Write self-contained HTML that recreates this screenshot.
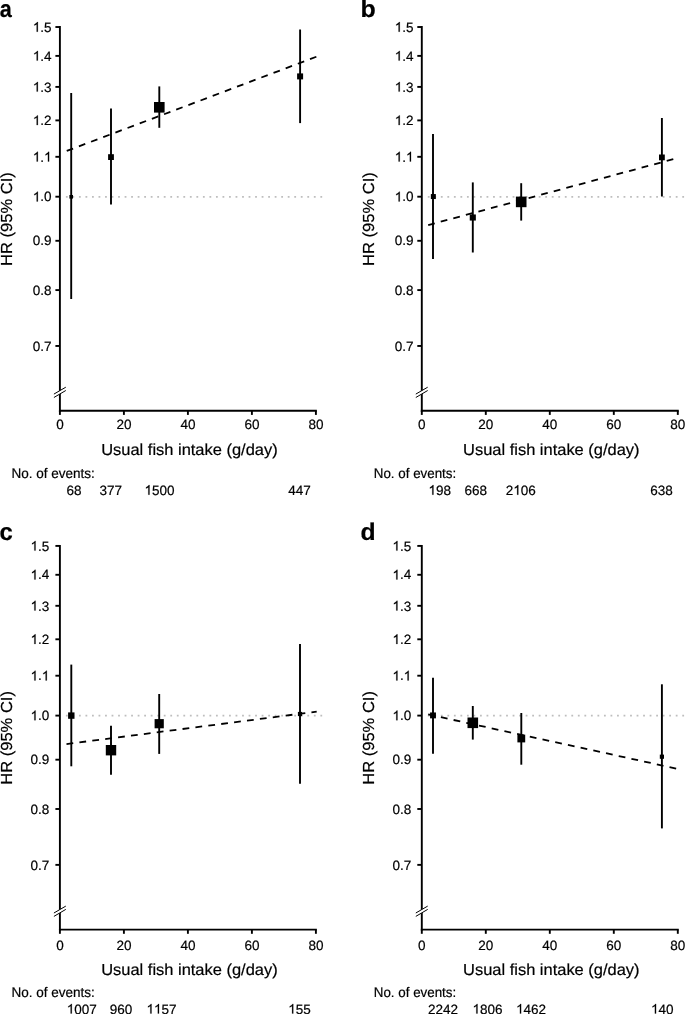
<!DOCTYPE html>
<html><head><meta charset="utf-8"><title>Figure</title>
<style>
html,body{margin:0;padding:0;background:#fff;}
body{width:685px;height:1014px;overflow:hidden;}
svg{display:block;will-change:transform;}
svg text{font-family:"Liberation Sans",sans-serif;fill:#000;stroke:#000;stroke-width:0.2px;text-rendering:geometricPrecision;}
</style></head><body>
<svg width="685" height="1014" viewBox="0 0 685 1014">
<rect width="685" height="1014" fill="#fff"/>
<line x1="65.90" y1="196.80" x2="322.20" y2="196.80" stroke="#bebebe" stroke-width="1.8" stroke-dasharray="1.8 4.725"/>
<path d="M59.90 26.06 V411.65" stroke="#000" stroke-width="1.9" fill="none"/>
<path d="M58.95 410.70 H316.85" stroke="#000" stroke-width="1.9" fill="none"/>
<path d="M55.40 27.01 H59.90" stroke="#000" stroke-width="1.9"/>
<path d="M763 0H583V1147Q518 1085 412.5 1023Q307 961 223 930V1104Q374 1175 487 1276Q600 1377 647 1472H763Z" transform="translate(32.83,31.71) scale(0.00659,-0.00659)" fill="#000" stroke="#000" stroke-width="30.3"/>
<text x="40.34 44.09" y="31.71" font-size="13.5">.5</text>
<path d="M55.40 55.89 H59.90" stroke="#000" stroke-width="1.9"/>
<path d="M763 0H583V1147Q518 1085 412.5 1023Q307 961 223 930V1104Q374 1175 487 1276Q600 1377 647 1472H763Z" transform="translate(32.83,60.59) scale(0.00659,-0.00659)" fill="#000" stroke="#000" stroke-width="30.3"/>
<text x="40.34 44.09" y="60.59" font-size="13.5">.4</text>
<path d="M55.40 86.90 H59.90" stroke="#000" stroke-width="1.9"/>
<path d="M763 0H583V1147Q518 1085 412.5 1023Q307 961 223 930V1104Q374 1175 487 1276Q600 1377 647 1472H763Z" transform="translate(32.83,91.60) scale(0.00659,-0.00659)" fill="#000" stroke="#000" stroke-width="30.3"/>
<text x="40.34 44.09" y="91.60" font-size="13.5">.3</text>
<path d="M55.40 120.40 H59.90" stroke="#000" stroke-width="1.9"/>
<path d="M763 0H583V1147Q518 1085 412.5 1023Q307 961 223 930V1104Q374 1175 487 1276Q600 1377 647 1472H763Z" transform="translate(32.83,125.10) scale(0.00659,-0.00659)" fill="#000" stroke="#000" stroke-width="30.3"/>
<text x="40.34 44.09" y="125.10" font-size="13.5">.2</text>
<path d="M55.40 156.81 H59.90" stroke="#000" stroke-width="1.9"/>
<path d="M763 0H583V1147Q518 1085 412.5 1023Q307 961 223 930V1104Q374 1175 487 1276Q600 1377 647 1472H763Z" transform="translate(32.83,161.51) scale(0.00659,-0.00659)" fill="#000" stroke="#000" stroke-width="30.3"/>
<path d="M763 0H583V1147Q518 1085 412.5 1023Q307 961 223 930V1104Q374 1175 487 1276Q600 1377 647 1472H763Z" transform="translate(44.09,161.51) scale(0.00659,-0.00659)" fill="#000" stroke="#000" stroke-width="30.3"/>
<text x="40.34" y="161.51" font-size="13.5">.</text>
<path d="M55.40 196.70 H59.90" stroke="#000" stroke-width="1.9"/>
<path d="M763 0H583V1147Q518 1085 412.5 1023Q307 961 223 930V1104Q374 1175 487 1276Q600 1377 647 1472H763Z" transform="translate(32.83,201.40) scale(0.00659,-0.00659)" fill="#000" stroke="#000" stroke-width="30.3"/>
<text x="40.34 44.09" y="201.40" font-size="13.5">.0</text>
<path d="M55.40 240.79 H59.90" stroke="#000" stroke-width="1.9"/>
<text x="32.83 40.34 44.09" y="245.49" font-size="13.5">0.9</text>
<path d="M55.40 290.09 H59.90" stroke="#000" stroke-width="1.9"/>
<text x="32.83 40.34 44.09" y="294.79" font-size="13.5">0.8</text>
<path d="M55.40 345.97 H59.90" stroke="#000" stroke-width="1.9"/>
<text x="32.83 40.34 44.09" y="350.67" font-size="13.5">0.7</text>
<path d="M59.90 410.70 V414.90" stroke="#000" stroke-width="1.9"/>
<text x="56.15" y="429.30" font-size="13.5">0</text>
<path d="M123.90 410.70 V414.90" stroke="#000" stroke-width="1.9"/>
<text x="116.39 123.90" y="429.30" font-size="13.5">20</text>
<path d="M187.90 410.70 V414.90" stroke="#000" stroke-width="1.9"/>
<text x="180.39 187.90" y="429.30" font-size="13.5">40</text>
<path d="M251.90 410.70 V414.90" stroke="#000" stroke-width="1.9"/>
<text x="244.39 251.90" y="429.30" font-size="13.5">60</text>
<path d="M315.90 410.70 V414.90" stroke="#000" stroke-width="1.9"/>
<text x="308.39 315.90" y="429.30" font-size="13.5">80</text>
<path d="M53.90 394.10 L65.80 387.20 L65.80 390.50 L53.90 397.50 Z" fill="#fff"/>
<path d="M53.90 394.10 L65.80 387.20 M53.90 397.50 L65.80 390.50" stroke="#000" stroke-width="1" fill="none"/>
<text transform="translate(189.40,455.10) scale(1.028,1)" font-size="16.0" text-anchor="middle" font-weight="normal">Usual fish intake (g/day)</text>
<text transform="translate(11.70,219.00) rotate(-90) scale(1.034,1)" font-size="16.0" text-anchor="middle" font-weight="normal">HR (95% CI)</text>
<text transform="translate(11.40,478.40) scale(0.97,1)" font-size="13.95" text-anchor="start" font-weight="normal">No. of events:</text>
<text x="66.39 73.90" y="494.70" font-size="13.5">68</text>
<text x="99.54 107.05 114.55" y="494.70" font-size="13.5">377</text>
<path d="M763 0H583V1147Q518 1085 412.5 1023Q307 961 223 930V1104Q374 1175 487 1276Q600 1377 647 1472H763Z" transform="translate(144.49,494.70) scale(0.00659,-0.00659)" fill="#000" stroke="#000" stroke-width="30.3"/>
<text x="151.99 159.50 167.01" y="494.70" font-size="13.5">500</text>
<text x="288.24 295.75 303.25" y="494.70" font-size="13.5">447</text>
<path d="M65.8 151.3 L316.8 56.6" stroke="#000" stroke-width="1.8" stroke-dasharray="6.8 6.2" stroke-dashoffset="-1.0" fill="none"/>
<path d="M71.2 93.0 V299.0" stroke="#000" stroke-width="1.9"/>
<rect x="69.40" y="195.00" width="3.6" height="3.6" fill="#000"/>
<path d="M111.0 108.5 V204.4" stroke="#000" stroke-width="1.9"/>
<rect x="108.10" y="154.20" width="5.8" height="5.8" fill="#000"/>
<path d="M159.3 86.4 V127.8" stroke="#000" stroke-width="1.9"/>
<rect x="154.00" y="102.00" width="10.6" height="10.6" fill="#000"/>
<path d="M300.1 29.5 V123.1" stroke="#000" stroke-width="1.9"/>
<rect x="297.10" y="73.40" width="6.0" height="6.0" fill="#000"/>
<text transform="translate(-0.30,17.10) scale(0.903,1)" font-size="24.0" text-anchor="start" font-weight="bold">a</text>
<line x1="427.80" y1="196.80" x2="684.10" y2="196.80" stroke="#bebebe" stroke-width="1.8" stroke-dasharray="1.8 4.725"/>
<path d="M421.80 26.06 V411.65" stroke="#000" stroke-width="1.9" fill="none"/>
<path d="M420.85 410.70 H678.75" stroke="#000" stroke-width="1.9" fill="none"/>
<path d="M417.30 27.01 H421.80" stroke="#000" stroke-width="1.9"/>
<path d="M763 0H583V1147Q518 1085 412.5 1023Q307 961 223 930V1104Q374 1175 487 1276Q600 1377 647 1472H763Z" transform="translate(394.74,31.71) scale(0.00659,-0.00659)" fill="#000" stroke="#000" stroke-width="30.3"/>
<text x="402.24 405.99" y="31.71" font-size="13.5">.5</text>
<path d="M417.30 55.89 H421.80" stroke="#000" stroke-width="1.9"/>
<path d="M763 0H583V1147Q518 1085 412.5 1023Q307 961 223 930V1104Q374 1175 487 1276Q600 1377 647 1472H763Z" transform="translate(394.74,60.59) scale(0.00659,-0.00659)" fill="#000" stroke="#000" stroke-width="30.3"/>
<text x="402.24 405.99" y="60.59" font-size="13.5">.4</text>
<path d="M417.30 86.90 H421.80" stroke="#000" stroke-width="1.9"/>
<path d="M763 0H583V1147Q518 1085 412.5 1023Q307 961 223 930V1104Q374 1175 487 1276Q600 1377 647 1472H763Z" transform="translate(394.74,91.60) scale(0.00659,-0.00659)" fill="#000" stroke="#000" stroke-width="30.3"/>
<text x="402.24 405.99" y="91.60" font-size="13.5">.3</text>
<path d="M417.30 120.40 H421.80" stroke="#000" stroke-width="1.9"/>
<path d="M763 0H583V1147Q518 1085 412.5 1023Q307 961 223 930V1104Q374 1175 487 1276Q600 1377 647 1472H763Z" transform="translate(394.74,125.10) scale(0.00659,-0.00659)" fill="#000" stroke="#000" stroke-width="30.3"/>
<text x="402.24 405.99" y="125.10" font-size="13.5">.2</text>
<path d="M417.30 156.81 H421.80" stroke="#000" stroke-width="1.9"/>
<path d="M763 0H583V1147Q518 1085 412.5 1023Q307 961 223 930V1104Q374 1175 487 1276Q600 1377 647 1472H763Z" transform="translate(394.74,161.51) scale(0.00659,-0.00659)" fill="#000" stroke="#000" stroke-width="30.3"/>
<path d="M763 0H583V1147Q518 1085 412.5 1023Q307 961 223 930V1104Q374 1175 487 1276Q600 1377 647 1472H763Z" transform="translate(405.99,161.51) scale(0.00659,-0.00659)" fill="#000" stroke="#000" stroke-width="30.3"/>
<text x="402.24" y="161.51" font-size="13.5">.</text>
<path d="M417.30 196.70 H421.80" stroke="#000" stroke-width="1.9"/>
<path d="M763 0H583V1147Q518 1085 412.5 1023Q307 961 223 930V1104Q374 1175 487 1276Q600 1377 647 1472H763Z" transform="translate(394.74,201.40) scale(0.00659,-0.00659)" fill="#000" stroke="#000" stroke-width="30.3"/>
<text x="402.24 405.99" y="201.40" font-size="13.5">.0</text>
<path d="M417.30 240.79 H421.80" stroke="#000" stroke-width="1.9"/>
<text x="394.74 402.24 405.99" y="245.49" font-size="13.5">0.9</text>
<path d="M417.30 290.09 H421.80" stroke="#000" stroke-width="1.9"/>
<text x="394.74 402.24 405.99" y="294.79" font-size="13.5">0.8</text>
<path d="M417.30 345.97 H421.80" stroke="#000" stroke-width="1.9"/>
<text x="394.74 402.24 405.99" y="350.67" font-size="13.5">0.7</text>
<path d="M421.80 410.70 V414.90" stroke="#000" stroke-width="1.9"/>
<text x="418.05" y="429.30" font-size="13.5">0</text>
<path d="M485.80 410.70 V414.90" stroke="#000" stroke-width="1.9"/>
<text x="478.29 485.80" y="429.30" font-size="13.5">20</text>
<path d="M549.80 410.70 V414.90" stroke="#000" stroke-width="1.9"/>
<text x="542.29 549.80" y="429.30" font-size="13.5">40</text>
<path d="M613.80 410.70 V414.90" stroke="#000" stroke-width="1.9"/>
<text x="606.29 613.80" y="429.30" font-size="13.5">60</text>
<path d="M677.80 410.70 V414.90" stroke="#000" stroke-width="1.9"/>
<text x="670.29 677.80" y="429.30" font-size="13.5">80</text>
<path d="M415.80 394.10 L427.70 387.20 L427.70 390.50 L415.80 397.50 Z" fill="#fff"/>
<path d="M415.80 394.10 L427.70 387.20 M415.80 397.50 L427.70 390.50" stroke="#000" stroke-width="1" fill="none"/>
<text transform="translate(551.30,455.10) scale(1.028,1)" font-size="16.0" text-anchor="middle" font-weight="normal">Usual fish intake (g/day)</text>
<text transform="translate(373.60,219.00) rotate(-90) scale(1.034,1)" font-size="16.0" text-anchor="middle" font-weight="normal">HR (95% CI)</text>
<text transform="translate(373.80,478.40) scale(0.958,1)" font-size="13.95" text-anchor="start" font-weight="normal">No. of events:</text>
<path d="M763 0H583V1147Q518 1085 412.5 1023Q307 961 223 930V1104Q374 1175 487 1276Q600 1377 647 1472H763Z" transform="translate(428.44,494.70) scale(0.00659,-0.00659)" fill="#000" stroke="#000" stroke-width="30.3"/>
<text x="435.95 443.45" y="494.70" font-size="13.5">98</text>
<text x="464.44 471.95 479.45" y="494.70" font-size="13.5">668</text>
<path d="M763 0H583V1147Q518 1085 412.5 1023Q307 961 223 930V1104Q374 1175 487 1276Q600 1377 647 1472H763Z" transform="translate(513.29,494.70) scale(0.00659,-0.00659)" fill="#000" stroke="#000" stroke-width="30.3"/>
<text x="505.79 520.80 528.31" y="494.70" font-size="13.5">206</text>
<text x="650.24 657.75 665.25" y="494.70" font-size="13.5">638</text>
<path d="M427.9 225.1 L674.2 158.9" stroke="#000" stroke-width="1.8" stroke-dasharray="6.8 6.2" stroke-dashoffset="-0.3" fill="none"/>
<path d="M433.0 134.1 V259.0" stroke="#000" stroke-width="1.9"/>
<rect x="430.85" y="194.05" width="5.0" height="5.0" fill="#000"/>
<path d="M472.8 182.4 V252.5" stroke="#000" stroke-width="1.9"/>
<rect x="469.75" y="214.45" width="6.1" height="6.1" fill="#000"/>
<path d="M521.2 183.2 V220.6" stroke="#000" stroke-width="1.9"/>
<rect x="515.90" y="196.60" width="10.6" height="10.6" fill="#000"/>
<path d="M661.9 118.0 V196.5" stroke="#000" stroke-width="1.9"/>
<rect x="659.00" y="154.50" width="5.8" height="5.8" fill="#000"/>
<text transform="translate(360.50,16.80) scale(1.04,1)" font-size="24.0" text-anchor="start" font-weight="bold">b</text>
<line x1="65.90" y1="715.70" x2="322.20" y2="715.70" stroke="#bebebe" stroke-width="1.8" stroke-dasharray="1.8 4.725"/>
<path d="M59.90 544.96 V930.55" stroke="#000" stroke-width="1.9" fill="none"/>
<path d="M58.95 929.60 H316.85" stroke="#000" stroke-width="1.9" fill="none"/>
<path d="M55.40 545.91 H59.90" stroke="#000" stroke-width="1.9"/>
<path d="M763 0H583V1147Q518 1085 412.5 1023Q307 961 223 930V1104Q374 1175 487 1276Q600 1377 647 1472H763Z" transform="translate(30.53,550.61) scale(0.00659,-0.00659)" fill="#000" stroke="#000" stroke-width="30.3"/>
<text x="38.04 41.79" y="550.61" font-size="13.5">.5</text>
<path d="M55.40 574.79 H59.90" stroke="#000" stroke-width="1.9"/>
<path d="M763 0H583V1147Q518 1085 412.5 1023Q307 961 223 930V1104Q374 1175 487 1276Q600 1377 647 1472H763Z" transform="translate(30.53,579.49) scale(0.00659,-0.00659)" fill="#000" stroke="#000" stroke-width="30.3"/>
<text x="38.04 41.79" y="579.49" font-size="13.5">.4</text>
<path d="M55.40 605.80 H59.90" stroke="#000" stroke-width="1.9"/>
<path d="M763 0H583V1147Q518 1085 412.5 1023Q307 961 223 930V1104Q374 1175 487 1276Q600 1377 647 1472H763Z" transform="translate(30.53,610.50) scale(0.00659,-0.00659)" fill="#000" stroke="#000" stroke-width="30.3"/>
<text x="38.04 41.79" y="610.50" font-size="13.5">.3</text>
<path d="M55.40 639.30 H59.90" stroke="#000" stroke-width="1.9"/>
<path d="M763 0H583V1147Q518 1085 412.5 1023Q307 961 223 930V1104Q374 1175 487 1276Q600 1377 647 1472H763Z" transform="translate(30.53,644.00) scale(0.00659,-0.00659)" fill="#000" stroke="#000" stroke-width="30.3"/>
<text x="38.04 41.79" y="644.00" font-size="13.5">.2</text>
<path d="M55.40 675.71 H59.90" stroke="#000" stroke-width="1.9"/>
<path d="M763 0H583V1147Q518 1085 412.5 1023Q307 961 223 930V1104Q374 1175 487 1276Q600 1377 647 1472H763Z" transform="translate(30.53,680.41) scale(0.00659,-0.00659)" fill="#000" stroke="#000" stroke-width="30.3"/>
<path d="M763 0H583V1147Q518 1085 412.5 1023Q307 961 223 930V1104Q374 1175 487 1276Q600 1377 647 1472H763Z" transform="translate(41.79,680.41) scale(0.00659,-0.00659)" fill="#000" stroke="#000" stroke-width="30.3"/>
<text x="38.04" y="680.41" font-size="13.5">.</text>
<path d="M55.40 715.60 H59.90" stroke="#000" stroke-width="1.9"/>
<path d="M763 0H583V1147Q518 1085 412.5 1023Q307 961 223 930V1104Q374 1175 487 1276Q600 1377 647 1472H763Z" transform="translate(30.53,720.30) scale(0.00659,-0.00659)" fill="#000" stroke="#000" stroke-width="30.3"/>
<text x="38.04 41.79" y="720.30" font-size="13.5">.0</text>
<path d="M55.40 759.69 H59.90" stroke="#000" stroke-width="1.9"/>
<text x="30.53 38.04 41.79" y="764.39" font-size="13.5">0.9</text>
<path d="M55.40 808.99 H59.90" stroke="#000" stroke-width="1.9"/>
<text x="30.53 38.04 41.79" y="813.69" font-size="13.5">0.8</text>
<path d="M55.40 864.87 H59.90" stroke="#000" stroke-width="1.9"/>
<text x="30.53 38.04 41.79" y="869.57" font-size="13.5">0.7</text>
<path d="M59.90 929.60 V933.80" stroke="#000" stroke-width="1.9"/>
<text x="56.15" y="949.60" font-size="13.5">0</text>
<path d="M123.90 929.60 V933.80" stroke="#000" stroke-width="1.9"/>
<text x="116.39 123.90" y="949.60" font-size="13.5">20</text>
<path d="M187.90 929.60 V933.80" stroke="#000" stroke-width="1.9"/>
<text x="180.39 187.90" y="949.60" font-size="13.5">40</text>
<path d="M251.90 929.60 V933.80" stroke="#000" stroke-width="1.9"/>
<text x="244.39 251.90" y="949.60" font-size="13.5">60</text>
<path d="M315.90 929.60 V933.80" stroke="#000" stroke-width="1.9"/>
<text x="308.39 315.90" y="949.60" font-size="13.5">80</text>
<path d="M53.90 913.00 L65.80 906.10 L65.80 909.40 L53.90 916.40 Z" fill="#fff"/>
<path d="M53.90 913.00 L65.80 906.10 M53.90 916.40 L65.80 909.40" stroke="#000" stroke-width="1" fill="none"/>
<text transform="translate(189.40,974.70) scale(1.028,1)" font-size="16.0" text-anchor="middle" font-weight="normal">Usual fish intake (g/day)</text>
<text transform="translate(11.70,737.90) rotate(-90) scale(1.034,1)" font-size="16.0" text-anchor="middle" font-weight="normal">HR (95% CI)</text>
<text transform="translate(11.40,996.90) scale(0.97,1)" font-size="13.95" text-anchor="start" font-weight="normal">No. of events:</text>
<path d="M763 0H583V1147Q518 1085 412.5 1023Q307 961 223 930V1104Q374 1175 487 1276Q600 1377 647 1472H763Z" transform="translate(66.79,1013.60) scale(0.00659,-0.00659)" fill="#000" stroke="#000" stroke-width="30.3"/>
<text x="74.29 81.80 89.31" y="1013.60" font-size="13.5">007</text>
<text x="109.84 117.35 124.85" y="1013.60" font-size="13.5">960</text>
<path d="M763 0H583V1147Q518 1085 412.5 1023Q307 961 223 930V1104Q374 1175 487 1276Q600 1377 647 1472H763Z" transform="translate(146.49,1013.60) scale(0.00659,-0.00659)" fill="#000" stroke="#000" stroke-width="30.3"/>
<path d="M763 0H583V1147Q518 1085 412.5 1023Q307 961 223 930V1104Q374 1175 487 1276Q600 1377 647 1472H763Z" transform="translate(153.99,1013.60) scale(0.00659,-0.00659)" fill="#000" stroke="#000" stroke-width="30.3"/>
<text x="161.50 169.01" y="1013.60" font-size="13.5">57</text>
<path d="M763 0H583V1147Q518 1085 412.5 1023Q307 961 223 930V1104Q374 1175 487 1276Q600 1377 647 1472H763Z" transform="translate(288.24,1013.60) scale(0.00659,-0.00659)" fill="#000" stroke="#000" stroke-width="30.3"/>
<text x="295.75 303.25" y="1013.60" font-size="13.5">55</text>
<path d="M66.2 744.1 L316.7 711.6" stroke="#000" stroke-width="1.8" stroke-dasharray="6.8 6.2" stroke-dashoffset="-0.3" fill="none"/>
<path d="M71.3 664.6 V766.3" stroke="#000" stroke-width="1.9"/>
<rect x="68.10" y="712.40" width="6.4" height="6.4" fill="#000"/>
<path d="M111.0 725.7 V774.7" stroke="#000" stroke-width="1.9"/>
<rect x="105.80" y="745.00" width="10.4" height="10.4" fill="#000"/>
<path d="M159.2 694.0 V753.9" stroke="#000" stroke-width="1.9"/>
<rect x="154.60" y="719.10" width="9.2" height="9.2" fill="#000"/>
<path d="M300.0 643.9 V783.7" stroke="#000" stroke-width="1.9"/>
<rect x="297.90" y="711.90" width="4.2" height="4.2" fill="#000"/>
<text transform="translate(-0.50,540.00) scale(0.995,1)" font-size="24.0" text-anchor="start" font-weight="bold">c</text>
<line x1="427.80" y1="715.70" x2="684.10" y2="715.70" stroke="#bebebe" stroke-width="1.8" stroke-dasharray="1.8 4.725"/>
<path d="M421.80 544.96 V930.55" stroke="#000" stroke-width="1.9" fill="none"/>
<path d="M420.85 929.60 H678.75" stroke="#000" stroke-width="1.9" fill="none"/>
<path d="M417.30 545.91 H421.80" stroke="#000" stroke-width="1.9"/>
<path d="M763 0H583V1147Q518 1085 412.5 1023Q307 961 223 930V1104Q374 1175 487 1276Q600 1377 647 1472H763Z" transform="translate(392.44,550.61) scale(0.00659,-0.00659)" fill="#000" stroke="#000" stroke-width="30.3"/>
<text x="399.94 403.69" y="550.61" font-size="13.5">.5</text>
<path d="M417.30 574.79 H421.80" stroke="#000" stroke-width="1.9"/>
<path d="M763 0H583V1147Q518 1085 412.5 1023Q307 961 223 930V1104Q374 1175 487 1276Q600 1377 647 1472H763Z" transform="translate(392.44,579.49) scale(0.00659,-0.00659)" fill="#000" stroke="#000" stroke-width="30.3"/>
<text x="399.94 403.69" y="579.49" font-size="13.5">.4</text>
<path d="M417.30 605.80 H421.80" stroke="#000" stroke-width="1.9"/>
<path d="M763 0H583V1147Q518 1085 412.5 1023Q307 961 223 930V1104Q374 1175 487 1276Q600 1377 647 1472H763Z" transform="translate(392.44,610.50) scale(0.00659,-0.00659)" fill="#000" stroke="#000" stroke-width="30.3"/>
<text x="399.94 403.69" y="610.50" font-size="13.5">.3</text>
<path d="M417.30 639.30 H421.80" stroke="#000" stroke-width="1.9"/>
<path d="M763 0H583V1147Q518 1085 412.5 1023Q307 961 223 930V1104Q374 1175 487 1276Q600 1377 647 1472H763Z" transform="translate(392.44,644.00) scale(0.00659,-0.00659)" fill="#000" stroke="#000" stroke-width="30.3"/>
<text x="399.94 403.69" y="644.00" font-size="13.5">.2</text>
<path d="M417.30 675.71 H421.80" stroke="#000" stroke-width="1.9"/>
<path d="M763 0H583V1147Q518 1085 412.5 1023Q307 961 223 930V1104Q374 1175 487 1276Q600 1377 647 1472H763Z" transform="translate(392.44,680.41) scale(0.00659,-0.00659)" fill="#000" stroke="#000" stroke-width="30.3"/>
<path d="M763 0H583V1147Q518 1085 412.5 1023Q307 961 223 930V1104Q374 1175 487 1276Q600 1377 647 1472H763Z" transform="translate(403.69,680.41) scale(0.00659,-0.00659)" fill="#000" stroke="#000" stroke-width="30.3"/>
<text x="399.94" y="680.41" font-size="13.5">.</text>
<path d="M417.30 715.60 H421.80" stroke="#000" stroke-width="1.9"/>
<path d="M763 0H583V1147Q518 1085 412.5 1023Q307 961 223 930V1104Q374 1175 487 1276Q600 1377 647 1472H763Z" transform="translate(392.44,720.30) scale(0.00659,-0.00659)" fill="#000" stroke="#000" stroke-width="30.3"/>
<text x="399.94 403.69" y="720.30" font-size="13.5">.0</text>
<path d="M417.30 759.69 H421.80" stroke="#000" stroke-width="1.9"/>
<text x="392.44 399.94 403.69" y="764.39" font-size="13.5">0.9</text>
<path d="M417.30 808.99 H421.80" stroke="#000" stroke-width="1.9"/>
<text x="392.44 399.94 403.69" y="813.69" font-size="13.5">0.8</text>
<path d="M417.30 864.87 H421.80" stroke="#000" stroke-width="1.9"/>
<text x="392.44 399.94 403.69" y="869.57" font-size="13.5">0.7</text>
<path d="M421.80 929.60 V933.80" stroke="#000" stroke-width="1.9"/>
<text x="418.05" y="949.60" font-size="13.5">0</text>
<path d="M485.80 929.60 V933.80" stroke="#000" stroke-width="1.9"/>
<text x="478.29 485.80" y="949.60" font-size="13.5">20</text>
<path d="M549.80 929.60 V933.80" stroke="#000" stroke-width="1.9"/>
<text x="542.29 549.80" y="949.60" font-size="13.5">40</text>
<path d="M613.80 929.60 V933.80" stroke="#000" stroke-width="1.9"/>
<text x="606.29 613.80" y="949.60" font-size="13.5">60</text>
<path d="M677.80 929.60 V933.80" stroke="#000" stroke-width="1.9"/>
<text x="670.29 677.80" y="949.60" font-size="13.5">80</text>
<path d="M415.80 913.00 L427.70 906.10 L427.70 909.40 L415.80 916.40 Z" fill="#fff"/>
<path d="M415.80 913.00 L427.70 906.10 M415.80 916.40 L427.70 909.40" stroke="#000" stroke-width="1" fill="none"/>
<text transform="translate(551.30,974.70) scale(1.028,1)" font-size="16.0" text-anchor="middle" font-weight="normal">Usual fish intake (g/day)</text>
<text transform="translate(373.60,737.90) rotate(-90) scale(1.034,1)" font-size="16.0" text-anchor="middle" font-weight="normal">HR (95% CI)</text>
<text transform="translate(373.80,996.90) scale(0.958,1)" font-size="13.95" text-anchor="start" font-weight="normal">No. of events:</text>
<text x="428.09 435.59 443.10 450.61" y="1013.60" font-size="13.5">2242</text>
<path d="M763 0H583V1147Q518 1085 412.5 1023Q307 961 223 930V1104Q374 1175 487 1276Q600 1377 647 1472H763Z" transform="translate(472.49,1013.60) scale(0.00659,-0.00659)" fill="#000" stroke="#000" stroke-width="30.3"/>
<text x="479.99 487.50 495.01" y="1013.60" font-size="13.5">806</text>
<path d="M763 0H583V1147Q518 1085 412.5 1023Q307 961 223 930V1104Q374 1175 487 1276Q600 1377 647 1472H763Z" transform="translate(516.09,1013.60) scale(0.00659,-0.00659)" fill="#000" stroke="#000" stroke-width="30.3"/>
<text x="523.59 531.10 538.61" y="1013.60" font-size="13.5">462</text>
<path d="M763 0H583V1147Q518 1085 412.5 1023Q307 961 223 930V1104Q374 1175 487 1276Q600 1377 647 1472H763Z" transform="translate(651.04,1013.60) scale(0.00659,-0.00659)" fill="#000" stroke="#000" stroke-width="30.3"/>
<text x="658.55 666.05" y="1013.60" font-size="13.5">40</text>
<path d="M427.9 714.4 L677.4 768.8" stroke="#000" stroke-width="1.8" stroke-dasharray="6.8 6.2" stroke-dashoffset="-0.3" fill="none"/>
<path d="M433.0 677.8 V753.7" stroke="#000" stroke-width="1.9"/>
<rect x="430.05" y="712.45" width="5.9" height="5.9" fill="#000"/>
<path d="M472.8 706.0 V739.6" stroke="#000" stroke-width="1.9"/>
<rect x="467.50" y="717.50" width="10.6" height="10.6" fill="#000"/>
<path d="M521.3 713.0 V764.7" stroke="#000" stroke-width="1.9"/>
<rect x="517.40" y="734.60" width="7.8" height="7.8" fill="#000"/>
<path d="M661.9 684.3 V828.4" stroke="#000" stroke-width="1.9"/>
<rect x="659.80" y="754.60" width="4.2" height="4.2" fill="#000"/>
<text transform="translate(360.40,540.20) scale(1.03,1)" font-size="24.0" text-anchor="start" font-weight="bold">d</text>
</svg>
</body></html>
